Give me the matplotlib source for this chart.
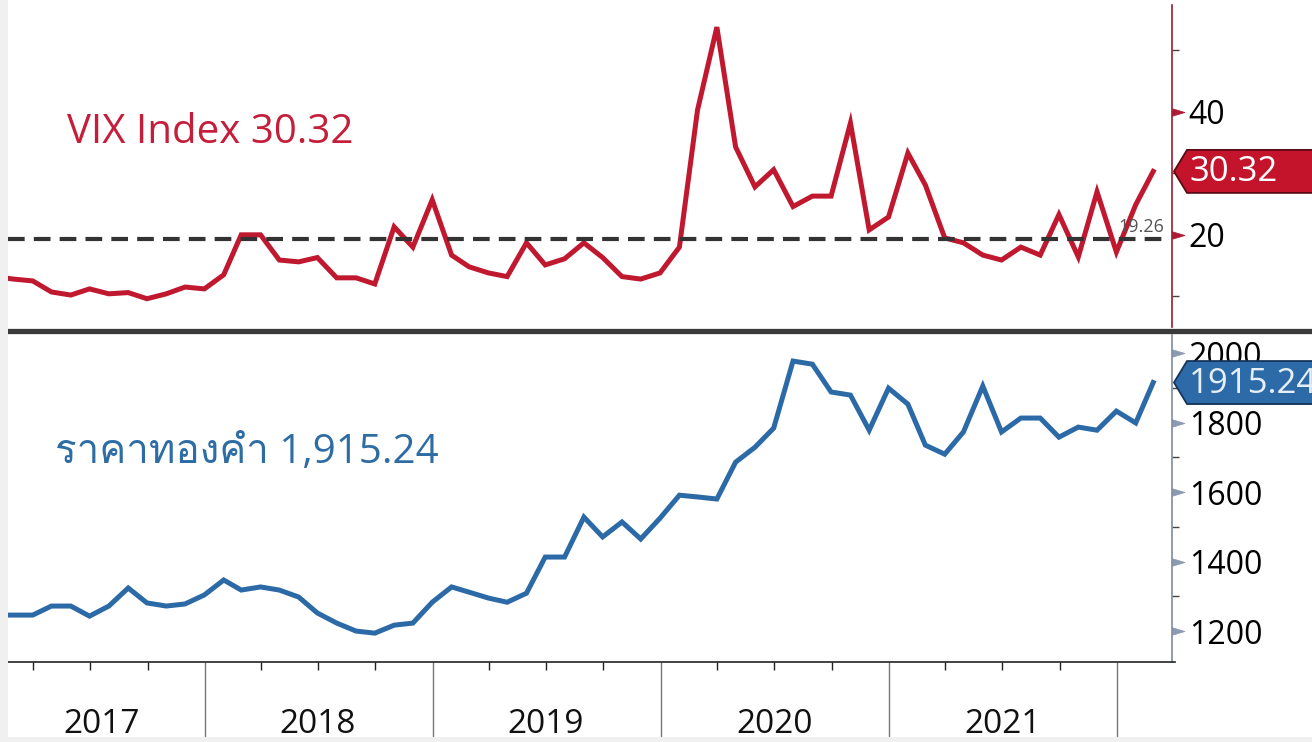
import numpy as np
import pandas as pd
import matplotlib
matplotlib.use("Agg")
import matplotlib.pyplot as plt
import matplotlib.dates as mdates
from matplotlib import font_manager as fm
from matplotlib.ft2font import FT2Font
from matplotlib.patches import Polygon, Rectangle
from matplotlib.lines import Line2D
from matplotlib.path import Path

# monthly closes, Jan 2017 .. Feb 2022
dates = pd.date_range("2017-01-31", periods=62, freq="ME")
vix = [13.2, 12.8, 12.5, 10.7, 10.2, 11.2, 10.4, 10.6, 9.6, 10.4, 11.5, 11.2,
       13.5, 20.0, 20.0, 15.9, 15.6, 16.3, 13.0, 13.0, 12.0, 21.3, 18.0, 25.7,
       16.7, 14.8, 13.8, 13.2, 18.7, 15.1, 16.1, 18.7, 16.3, 13.2, 12.8, 13.8,
       18.0, 40.3, 53.8, 34.3, 27.8, 30.6, 24.6, 26.3, 26.3, 38.2, 20.8, 22.9,
       33.3, 28.1, 19.5, 18.7, 16.7, 15.9, 18.0, 16.7, 23.3, 16.4, 27.0, 17.2,
       24.9, 30.32]
gold = [1246, 1246, 1246, 1272, 1272, 1243, 1272, 1324, 1281, 1272, 1278, 1304,
        1347, 1318, 1327, 1318, 1298, 1252, 1223, 1200, 1194, 1217, 1223, 1283,
        1327, 1312, 1295, 1283, 1309, 1413, 1413, 1528, 1471, 1514, 1465, 1525,
        1591, 1586, 1580, 1686, 1729, 1784, 1977, 1968, 1888, 1879, 1778, 1899,
        1853, 1735, 1709, 1773, 1905, 1773, 1813, 1813, 1758, 1787, 1778, 1833,
        1799, 1915.24]
vix_avg = 19.26
vix_label = "VIX Index 30.32"
gold_label = "ราคาทองคำ 1,915.24"
years = [2017, 2018, 2019, 2020, 2021]
vix_major = [20, 40]
vix_minor = [10, 30, 50]
gold_major = [1200, 1400, 1600, 1800, 2000]
gold_minor = [1300, 1500, 1700, 1900]

RED = "#c0182f"
BLUE = "#2b6aa6"

# a font that has Thai glyphs, if any is installed
thai_font = None
for f in fm.fontManager.ttflist:
    try:
        if 0x0E23 in FT2Font(f.fname).get_charmap():
            thai_font = f.name
            break
    except Exception:
        pass
LATIN = "Open Sans"
thai_family = [LATIN] + ([thai_font] if thai_font else []) + ["DejaVu Sans"]

W, H = 1312, 742
fig = plt.figure(figsize=(W / 100, H / 100), dpi=100, facecolor="white")


def rect(x0, y0, x1, y1):
    return [x0 / W, 1 - y1 / H, (x1 - x0) / W, (y1 - y0) / H]


ax_v = fig.add_axes(rect(8, 5, 1172, 327))
ax_g = fig.add_axes(rect(8, 335, 1172, 662), sharex=ax_v)

# x scale: Jan 1 2018 -> px 205, Jan 1 2022 -> px 1117
d18 = mdates.date2num(pd.Timestamp("2018-01-01"))
d22 = mdates.date2num(pd.Timestamp("2022-01-01"))
dpp = (d22 - d18) / (1117 - 205)
ax_v.set_xlim(d18 - (205 - 8) * dpp, d22 + (1172 - 1117) * dpp)

ax_v.plot(dates, vix, color=RED, lw=3.6, solid_joinstyle="miter", zorder=3)
ax_v.axhline(vix_avg, xmax=0.994, color="#333333", lw=3, dashes=(4, 2.2), zorder=4)
ax_v.text(0.993, vix_avg + 0.5, f"{vix_avg:.2f}", transform=ax_v.get_yaxis_transform(),
          ha="right", va="bottom", fontsize=13, color="#555555", family=LATIN, zorder=5)
ax_v.set_ylim(5.0, 57.4)

ax_g.plot(dates, gold, color=BLUE, lw=3.6, solid_joinstyle="miter", zorder=3)
ax_g.set_ylim(1111, 2052)

# long thin wedge used as the major tick mark
wedge = Path([(0, -0.3), (1, 0), (0, 0.3), (0, -0.3)],
             [Path.MOVETO, Path.LINETO, Path.LINETO, Path.CLOSEPOLY])


def style(ax, major, minor, spine_col, tick_col):
    for s in ["top", "left", "bottom"]:
        ax.spines[s].set_visible(False)
    ax.spines["right"].set_color(spine_col)
    ax.spines["right"].set_linewidth(1.2)
    ax.yaxis.tick_right()
    ax.set_yticks(major)
    ax.set_yticks(minor, minor=True)
    ax.tick_params(axis="y", which="major", length=9, width=1, color=tick_col,
                   pad=3, labelsize=23, labelcolor="black")
    ax.tick_params(axis="y", which="minor", length=5, width=1, color="#444444")
    for lab in ax.get_yticklabels():
        lab.set_family(LATIN)
    for t in ax.yaxis.get_major_ticks():
        t.tick2line.set_marker(wedge)
        t.tick2line.set_markersize(18)
        t.tick2line.set_markerfacecolor(tick_col)
        t.tick2line.set_markeredgecolor(tick_col)
        t.tick2line.set_markeredgewidth(0.5)


style(ax_v, vix_major, vix_minor, "#9b1b30", "#b01a34")
style(ax_g, gold_major, gold_minor, "#7f8c9c", "#8a9ab0")

# x axis: year separators + quarter ticks
ax_v.tick_params(axis="x", which="both", bottom=False, labelbottom=False)
ax_g.spines["bottom"].set_visible(True)
ax_g.spines["bottom"].set_color("#222222")
ax_g.spines["bottom"].set_linewidth(1.2)
ax_g.spines["bottom"].set_bounds(ax_g.get_xlim()[0], ax_g.get_xlim()[1] + 3 * dpp)
ax_g.xaxis.set_major_locator(mdates.YearLocator())
ax_g.xaxis.set_minor_locator(mdates.MonthLocator([4, 7, 10]))
ax_g.tick_params(axis="x", which="major", length=60, width=1, color="#777777",
                 labelbottom=False)
ax_g.tick_params(axis="x", which="minor", length=6, width=1, color="#222222")
for y in years:
    xm = pd.Timestamp(f"{y}-07-01") if y > 2017 else pd.Timestamp("2017-07-20")
    ax_g.text(mdates.date2num(xm), -0.19, str(y), transform=ax_g.get_xaxis_transform(),
              ha="center", va="center", fontsize=24, family=LATIN, color="#111111",
              clip_on=False)

# separator between the panels
fig.add_artist(Line2D([8 / W, 1], [1 - 330.5 / H] * 2, transform=fig.transFigure,
                      color="#3a3a3a", lw=3.8))


# last-value tags
def tag(ax, value, text, face, edge, tcol):
    yd = ax.transData.transform((0, value))[1]
    xs = ax.transAxes.transform((1, 0))[0]
    h = 21.5
    verts = [(xs + 2, yd), (xs + 15, yd + h), (W + 5, yd + h), (W + 5, yd - h),
             (xs + 15, yd - h)]
    fig.add_artist(Polygon([(x / W, y / H) for x, y in verts], closed=True,
                           transform=fig.transFigure, fc=face, ec=edge, lw=1.3,
                           zorder=5))
    fig.text((xs + 17) / W, (yd - 1) / H, text, color=tcol, fontsize=25, family=LATIN,
             va="center", ha="left", zorder=6)


tag(ax_v, vix[-1], f"{vix[-1]:.2f}", "#c4142c", "#5a0a14", "white")
tag(ax_g, gold[-1], f"{gold[-1]:.2f}", "#2d6aa8", "#15345a", "#e6eef8")

# headline labels
fig.text(67 / W, 1 - 143 / H, vix_label, color="#c41e3a", fontsize=29,
         family=LATIN, va="baseline", ha="left")
fig.text(55 / W, 1 - 463 / H, gold_label, color="#2e6da4", fontsize=29,
         family=thai_family, va="baseline", ha="left")

# light frame strips at the left and bottom edges
fig.add_artist(Rectangle((0, 0), 8 / W, 1, transform=fig.transFigure,
                         fc="#f0f0f0", ec="none", zorder=10))
fig.add_artist(Rectangle((0, 0), 1, 5 / H, transform=fig.transFigure,
                         fc="#f0f0f0", ec="none", zorder=10))

fig.savefig("out.png", dpi=100, facecolor="white")
